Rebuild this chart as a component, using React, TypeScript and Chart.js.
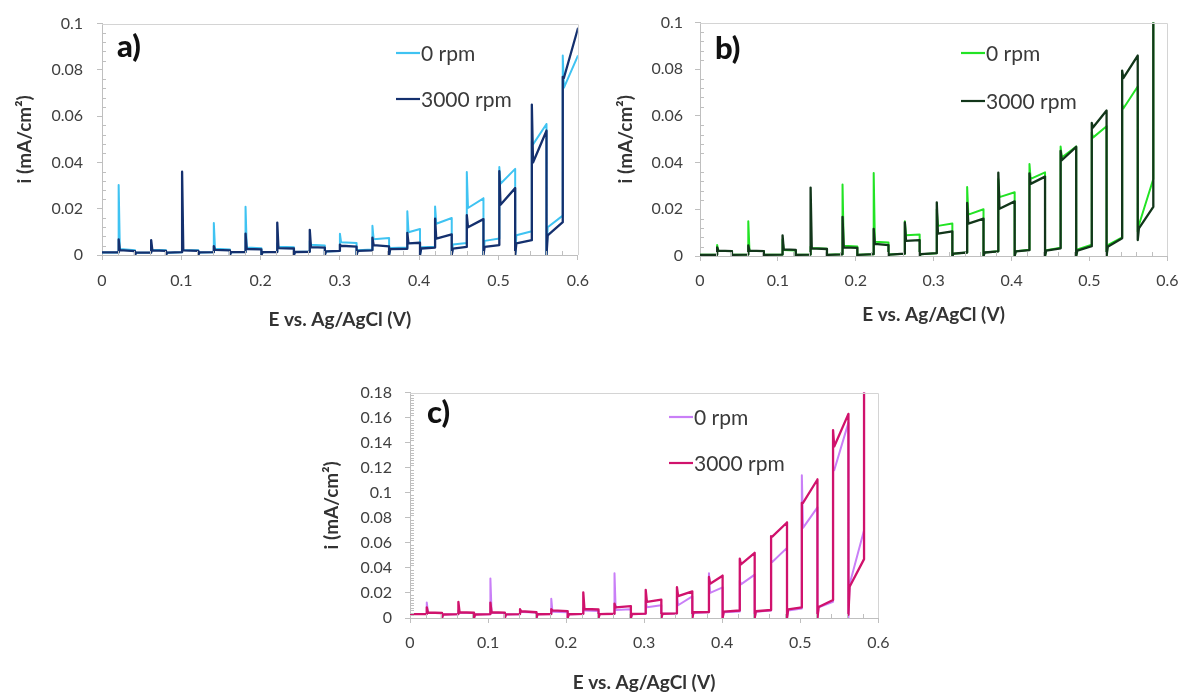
import { useEffect, useRef } from 'react';
import { Chart, registerables } from 'chart.js';

Chart.register(...registerables);

const FONT = 'Lato, "Open Sans", sans-serif';

// ---- axis ticks ----
const xTickValues = [0, 0.1, 0.2, 0.3, 0.4, 0.5, 0.6];
const xTickLabels = ['0', '0.1', '0.2', '0.3', '0.4', '0.5', '0.6'];
const yTickValuesAB = [0, 0.02, 0.04, 0.06, 0.08, 0.1];
const yTickLabelsAB = ['0', '0.02', '0.04', '0.06', '0.08', '0.1'];
const yTickValuesC = [0, 0.02, 0.04, 0.06, 0.08, 0.1, 0.12, 0.14, 0.16, 0.18];
const yTickLabelsC = ['0', '0.02', '0.04', '0.06', '0.08', '0.1', '0.12', '0.14', '0.16', '0.18'];

const seriesLabels = ['0 rpm', '3000 rpm'];
const xTitle = 'E vs. Ag/AgCl (V)';
const yTitle = 'i (mA/cm²)';

// ---- light on / light off potentials (V) for each panel ----
const stepsA = [[0.021, 0.0416], [0.062, 0.0807], [0.101, 0.1214], [0.141, 0.1613], [0.181, 0.201], [0.221, 0.242], [0.262, 0.281], [0.300, 0.321], [0.341, 0.362], [0.385, 0.401], [0.420, 0.441], [0.460, 0.481], [0.501, 0.521], [0.542, 0.5605], [0.581, 0.600]];
const stepsB = [[0.022, 0.041], [0.062, 0.082], [0.106, 0.123], [0.142, 0.163], [0.183, 0.202], [0.223, 0.242], [0.263, 0.282], [0.304, 0.324], [0.343, 0.364], [0.383, 0.404], [0.423, 0.443], [0.463, 0.483], [0.503, 0.522], [0.542, 0.562], [0.582, 0.600]];
const stepsC = [[0.0215, 0.041], [0.062, 0.082], [0.103, 0.1215], [0.141, 0.162], [0.181, 0.202], [0.222, 0.2415], [0.262, 0.283], [0.302, 0.322], [0.342, 0.3617], [0.383, 0.4005], [0.4225, 0.4416], [0.4626, 0.483], [0.502, 0.522], [0.542, 0.5617], [0.5817, 0.600]];

// ---- current (mA/cm²) per light cycle: [darkStart, darkEnd, peak, plateauStart, plateauEnd, dipAtOff] ----
const a0rpm = [
  [0.0011, 0.0011, 0.0302, 0.0026, 0.0021, 0],
  [0.0010, 0.0011, 0.0040, 0.0023, 0.0020, 0],
  [0.0010, 0.0012, 0.0030, 0.0022, 0.0020, 0],
  [0.0011, 0.0012, 0.0138, 0.0027, 0.0024, 0],
  [0.0012, 0.0013, 0.0208, 0.0032, 0.0029, 0],
  [0.0012, 0.0014, 0.0050, 0.0036, 0.0033, 0],
  [0.0013, 0.0015, 0.0060, 0.0044, 0.0041, 0],
  [0.0015, 0.0017, 0.0092, 0.0055, 0.0052, 0],
  [0.0020, 0.0024, 0.0126, 0.0068, 0.0073, 0],
  [0.0030, 0.0032, 0.0189, 0.0098, 0.0112, 0],
  [0.0034, 0.0036, 0.0210, 0.0135, 0.0160, 0],
  [0.0045, 0.0052, 0.0359, 0.0203, 0.0245, 0],
  [0.0061, 0.0071, 0.0380, 0.0308, 0.0372, 0],
  [0.0085, 0.0103, 0.0490, 0.0478, 0.0566, 0],
  [0.0120, 0.0170, 0.0862, 0.0723, 0.0860],
];
const a3000rpm = [
  [0.0011, 0.0011, 0.0067, 0.0021, 0.0017, 0],
  [0.0010, 0.0010, 0.0064, 0.0020, 0.0018, 0],
  [0.0010, 0.0012, 0.0360, 0.0020, 0.0018, 0],
  [0.0011, 0.0012, 0.0038, 0.0022, 0.0020, 0],
  [0.0012, 0.0012, 0.0092, 0.0026, 0.0024, 0],
  [0.0012, 0.0013, 0.0140, 0.0030, 0.0028, 0],
  [0.0013, 0.0014, 0.0109, 0.0034, 0.0032, 0],
  [0.0016, 0.0018, 0.0045, 0.0040, 0.0036, 0],
  [0.0018, 0.0020, 0.0075, 0.0043, 0.0037, 0],
  [0.0025, 0.0027, 0.0096, 0.0050, 0.0053, 0],
  [0.0028, 0.0032, 0.0157, 0.0071, 0.0089, 0],
  [0.0028, 0.0035, 0.0172, 0.0120, 0.0155, 0],
  [0.0035, 0.0043, 0.0362, 0.0217, 0.0289, 0],
  [0.0050, 0.0064, 0.0650, 0.0400, 0.0537, 0],
  [0.0085, 0.0142, 0.0770, 0.0766, 0.0978],
];
const b0rpm = [
  [0.0005, 0.0005, 0.0047, 0.0023, 0.0021, 0],
  [0.0005, 0.0006, 0.0149, 0.0023, 0.0021, 0],
  [0.0005, 0.0006, 0.0071, 0.0026, 0.0024, 0],
  [0.0005, 0.0006, 0.0040, 0.0034, 0.0031, 0],
  [0.0005, 0.0007, 0.0306, 0.0044, 0.0041, 0],
  [0.0005, 0.0008, 0.0355, 0.0061, 0.0058, 0],
  [0.0006, 0.0010, 0.0149, 0.0089, 0.0092, 0],
  [0.0008, 0.0012, 0.0200, 0.0129, 0.0139, 0],
  [0.0010, 0.0015, 0.0295, 0.0177, 0.0200, 0],
  [0.0015, 0.0020, 0.0330, 0.0252, 0.0273, 0],
  [0.0020, 0.0027, 0.0394, 0.0330, 0.0358, 0],
  [0.0025, 0.0035, 0.0469, 0.0422, 0.0469, 0],
  [0.0028, 0.0048, 0.0530, 0.0507, 0.0556, 0],
  [0.0047, 0.0080, 0.0650, 0.0632, 0.0726, 0.0105],
  [0.0133, 0.0330, 0.1200, 0.1300, 0.1600],
];
const b3000rpm = [
  [0.0005, 0.0005, 0.0037, 0.0023, 0.0021, 0],
  [0.0005, 0.0006, 0.0045, 0.0023, 0.0021, 0],
  [0.0005, 0.0006, 0.0088, 0.0028, 0.0026, 0],
  [0.0005, 0.0006, 0.0293, 0.0033, 0.0030, 0],
  [0.0005, 0.0007, 0.0167, 0.0037, 0.0035, 0],
  [0.0005, 0.0008, 0.0116, 0.0052, 0.0047, 0],
  [0.0006, 0.0010, 0.0144, 0.0065, 0.0068, 0],
  [0.0008, 0.0012, 0.0230, 0.0096, 0.0105, 0],
  [0.0010, 0.0015, 0.0227, 0.0139, 0.0160, 0],
  [0.0015, 0.0020, 0.0357, 0.0202, 0.0234, 0],
  [0.0020, 0.0025, 0.0354, 0.0309, 0.0340, 0],
  [0.0023, 0.0033, 0.0450, 0.0410, 0.0467, 0],
  [0.0023, 0.0042, 0.0570, 0.0550, 0.0623, 0],
  [0.0040, 0.0076, 0.0794, 0.0762, 0.0858, 0.0068],
  [0.0118, 0.0210, 0.1200, 0.1300, 0.1600],
];
const c0rpm = [
  [0.0031, 0.0031, 0.0123, 0.0042, 0.0040, 0],
  [0.0028, 0.0030, 0.0060, 0.0042, 0.0040, 0],
  [0.0028, 0.0030, 0.0315, 0.0042, 0.0040, 0],
  [0.0028, 0.0030, 0.0065, 0.0048, 0.0044, 0],
  [0.0030, 0.0031, 0.0154, 0.0049, 0.0046, 0],
  [0.0030, 0.0032, 0.0080, 0.0059, 0.0055, 0],
  [0.0031, 0.0033, 0.0358, 0.0064, 0.0070, 0],
  [0.0032, 0.0034, 0.0140, 0.0085, 0.0102, 0],
  [0.0033, 0.0036, 0.0180, 0.0102, 0.0172, 0],
  [0.0040, 0.0045, 0.0358, 0.0200, 0.0245, 0],
  [0.0045, 0.0052, 0.0300, 0.0269, 0.0346, 0],
  [0.0050, 0.0060, 0.0460, 0.0448, 0.0560, 0],
  [0.0060, 0.0075, 0.1140, 0.0720, 0.0883, 0],
  [0.0085, 0.0130, 0.1200, 0.1180, 0.1560, 0],
  [0.0270, 0.0700, 0.2000, 0.2200, 0.2500],
];
const c3000rpm = [
  [0.0031, 0.0031, 0.0085, 0.0044, 0.0040, 0],
  [0.0028, 0.0031, 0.0128, 0.0046, 0.0042, 0],
  [0.0028, 0.0031, 0.0123, 0.0046, 0.0043, 0],
  [0.0029, 0.0031, 0.0070, 0.0054, 0.0046, 0],
  [0.0030, 0.0032, 0.0070, 0.0061, 0.0055, 0],
  [0.0030, 0.0033, 0.0205, 0.0072, 0.0068, 0],
  [0.0031, 0.0034, 0.0115, 0.0085, 0.0095, 0],
  [0.0032, 0.0035, 0.0225, 0.0128, 0.0146, 0],
  [0.0034, 0.0037, 0.0246, 0.0174, 0.0212, 0],
  [0.0046, 0.0048, 0.0328, 0.0274, 0.0338, 0],
  [0.0051, 0.0060, 0.0474, 0.0428, 0.0520, 0],
  [0.0054, 0.0064, 0.0653, 0.0650, 0.0763, 0],
  [0.0069, 0.0085, 0.0920, 0.0920, 0.1106, 0],
  [0.0088, 0.0144, 0.1500, 0.1370, 0.1630, 0.0026],
  [0.0250, 0.0470, 0.2000, 0.2200, 0.2500],
];

const DECAY = 0.0015; // V between spike top and plateau / dip and dark level

function buildPoints(steps: number[][], rows: number[][]) {
  const pts: { x: number; y: number }[] = [];
  let prevOff = 0;
  rows.forEach((r, i) => {
    const [on, off] = steps[i];
    const [darkStart, darkEnd, peak, platStart, platEnd, dip] = r;
    pts.push({ x: i === 0 ? 0 : prevOff + DECAY, y: darkStart });
    pts.push({ x: on, y: darkEnd });
    pts.push({ x: on, y: peak });
    pts.push({ x: on + DECAY, y: platStart });
    pts.push({ x: off, y: platEnd });
    if (dip !== undefined) pts.push({ x: off, y: dip });
    prevOff = off;
  });
  return pts;
}

type Spec = {
  left: number; top: number; w: number; h: number;
  yAxisW: number; xAxisH: number; padTop: number; padRight: number;
  yMax: number; yTicks: number[]; yLabels: string[]; yMinor: number;
  steps: number[][]; zero: number[][]; fast: number[][];
  colors: [string, string];
  xTickPad: number; yTickPad: number; yTitlePad: number; xTitlePad: number;
  label: string; labelX: number; labelY: number;
  legX: number; legY: number[];
};

const AXIS = '#bfbfbf';

const panels: Spec[] = [
  {
    left: 0, top: 0, w: 600, h: 340, yAxisW: 102, xAxisH: 85, padTop: 20, padRight: 22,
    yMax: 0.1, yTicks: yTickValuesAB, yLabels: yTickLabelsAB, yMinor: 0.004,
    steps: stepsA, zero: a0rpm, fast: a3000rpm, colors: ['#3fc3f2', '#14306e'],
    xTickPad: 11, yTickPad: 14, yTitlePad: 13.5, xTitlePad: 8.5,
    label: 'a)', labelX: 117, labelY: 47, legX: 396, legY: [53, 99],
  },
  {
    left: 590, top: 0, w: 599, h: 340, yAxisW: 110, xAxisH: 84, padTop: 22.5, padRight: 12,
    yMax: 0.1, yTicks: yTickValuesAB, yLabels: yTickLabelsAB, yMinor: 0.004,
    steps: stepsB, zero: b0rpm, fast: b3000rpm, colors: ['#22e324', '#12361a'],
    xTickPad: 10.5, yTickPad: 12, yTitlePad: 24.5, xTitlePad: 13.5,
    label: 'b)', labelX: 125, labelY: 49, legX: 371, legY: [53, 101],
  },
  {
    left: 300, top: 370, w: 600, h: 323, yAxisW: 110, xAxisH: 75, padTop: 14, padRight: 15,
    yMax: 0.18, yTicks: yTickValuesC, yLabels: yTickLabelsC, yMinor: 0.002,
    steps: stepsC, zero: c0rpm, fast: c3000rpm, colors: ['#c97ff7', '#d0126c'],
    xTickPad: 10.5, yTickPad: 13, yTitlePad: 20.5, xTitlePad: -1,
    label: 'c)', labelX: 127, labelY: 43, legX: 369, legY: [47, 93],
  },
];

function makeDecor(s: Spec) {
  return {
    id: 'decor',
    afterDraw(chart: any) {
      const { ctx, chartArea: ca, scales } = chart;
      const xs = scales.x, ys = scales.y;
      ctx.save();
      ctx.lineWidth = 1;
      // top & right frame
      ctx.strokeStyle = '#d4d4d4';
      ctx.beginPath();
      ctx.moveTo(ca.left, Math.round(ca.top) + 0.5);
      ctx.lineTo(Math.round(ca.right) + 0.5, Math.round(ca.top) + 0.5);
      ctx.lineTo(Math.round(ca.right) + 0.5, ca.bottom);
      ctx.stroke();
      // minor ticks
      ctx.strokeStyle = AXIS;
      ctx.beginPath();
      const perMajorY = Math.round(0.02 / s.yMinor);
      for (let k = 1; k * s.yMinor < s.yMax - 1e-9; k++) {
        if (k % perMajorY === 0) continue;
        const py = Math.round(ys.getPixelForValue(k * s.yMinor)) + 0.5;
        ctx.moveTo(ca.left, py);
        ctx.lineTo(ca.left + 4, py);
      }
      for (let k = 1; k * 0.02 < 0.6 - 1e-9; k++) {
        if (k % 5 === 0) continue;
        const px = Math.round(xs.getPixelForValue(k * 0.02)) + 0.5;
        ctx.moveTo(px, ca.bottom);
        ctx.lineTo(px, ca.bottom - 4);
      }
      ctx.stroke();
      // panel label
      ctx.fillStyle = '#111';
      ctx.textBaseline = 'middle';
      ctx.textAlign = 'left';
      ctx.font = `900 31px ${FONT}`;
      ctx.fillText(s.label, s.labelX, s.labelY);
      // legend
      ctx.font = `21px ${FONT}`;
      seriesLabels.forEach((lab, i) => {
        const y = s.legY[i];
        ctx.strokeStyle = s.colors[i];
        ctx.lineWidth = 2.2;
        ctx.beginPath();
        ctx.moveTo(s.legX, y);
        ctx.lineTo(s.legX + 24, y);
        ctx.stroke();
        ctx.fillStyle = '#3a3a3a';
        ctx.fillText(lab, s.legX + 25, y + 1);
      });
      ctx.restore();
    },
  };
}

function makeConfig(s: Spec): any {
  const tickFont = { family: FONT, size: 16 };
  const titleFont = { family: FONT, size: 19, weight: 'bold' as const };
  return {
    type: 'line',
    data: {
      datasets: [
        {
          label: seriesLabels[0], data: buildPoints(s.steps, s.zero), borderColor: s.colors[0],
          borderWidth: 2, pointRadius: 0, tension: 0, order: 1, fill: false,
          borderJoinStyle: 'round', borderCapStyle: 'round',
        },
        {
          label: seriesLabels[1], data: buildPoints(s.steps, s.fast), borderColor: s.colors[1],
          borderWidth: 2.3, pointRadius: 0, tension: 0, order: 0, fill: false,
          borderJoinStyle: 'round', borderCapStyle: 'round',
        },
      ],
    },
    options: {
      animation: false,
      responsive: false,
      maintainAspectRatio: false,
      events: [],
      layout: { padding: { top: s.padTop, right: s.padRight, left: 0, bottom: 0 } },
      plugins: { legend: { display: false }, tooltip: { enabled: false } },
      scales: {
        x: {
          type: 'linear', min: 0, max: 0.6,
          afterFit: (sc: any) => { sc.height = s.xAxisH; },
          afterBuildTicks: (sc: any) => { sc.ticks = xTickValues.map((v) => ({ value: v })); },
          ticks: {
            autoSkip: false, maxRotation: 0, padding: s.xTickPad, font: tickFont, color: '#404040',
            callback: (_v: any, i: number) => xTickLabels[i],
          },
          grid: { drawOnChartArea: false, drawTicks: true, tickLength: 5, color: AXIS },
          border: { display: true, color: AXIS },
          title: { display: true, text: xTitle, font: titleFont, color: '#333', padding: { top: 0, bottom: s.xTitlePad } },
        },
        y: {
          type: 'linear', min: 0, max: s.yMax,
          afterFit: (sc: any) => { sc.width = s.yAxisW; },
          afterBuildTicks: (sc: any) => { sc.ticks = s.yTicks.map((v) => ({ value: v })); },
          ticks: {
            autoSkip: false, padding: s.yTickPad, font: tickFont, color: '#404040',
            callback: (_v: any, i: number) => s.yLabels[i],
          },
          grid: { drawOnChartArea: false, drawTicks: true, tickLength: 5, color: AXIS },
          border: { display: true, color: AXIS },
          title: { display: true, text: yTitle, font: titleFont, color: '#333', padding: { top: s.yTitlePad, bottom: 0 } },
        },
      },
    },
    plugins: [makeDecor(s)],
  };
}

function Panel({ spec }: { spec: Spec }) {
  const ref = useRef<HTMLCanvasElement>(null);
  useEffect(() => {
    const chart = new Chart(ref.current as HTMLCanvasElement, makeConfig(spec));
    return () => chart.destroy();
  }, [spec]);
  return (
    <canvas
      ref={ref}
      width={spec.w}
      height={spec.h}
      style={{ position: 'absolute', left: spec.left, top: spec.top, width: spec.w, height: spec.h }}
    />
  );
}

export default function App() {
  return (
    <div style={{ position: 'absolute', left: 0, top: 0, width: 1189, height: 693, background: '#fff', overflow: 'hidden' }}>
      {panels.map((p) => (
        <Panel key={p.label} spec={p} />
      ))}
    </div>
  );
}
